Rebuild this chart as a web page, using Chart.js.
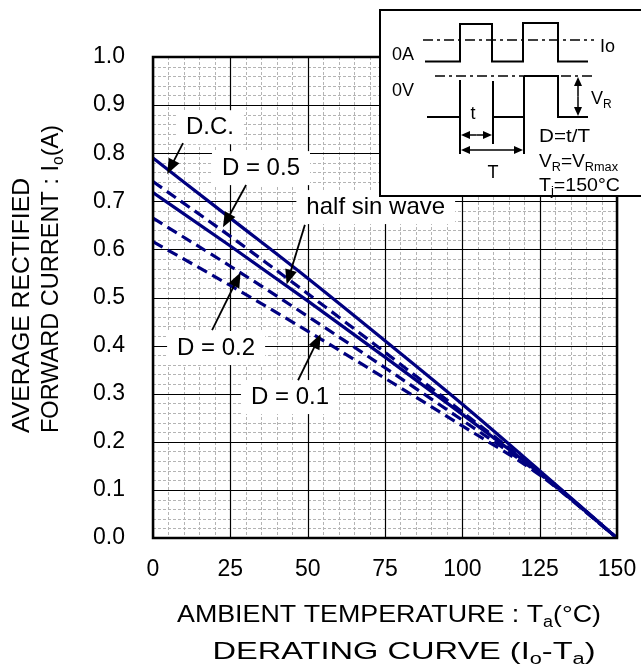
<!DOCTYPE html>
<html>
<head>
<meta charset="utf-8">
<script src="https://cdn.jsdelivr.net/npm/chart.js@4.4.0/dist/chart.umd.min.js"></script>
<style>
html,body{margin:0;padding:0;background:#fff;}
#wrap{width:641px;height:669px;position:relative;}
canvas{display:block;}
</style>
</head>
<body>
<div id="wrap"><canvas id="c" width="641" height="669" style="width:641px;height:669px"></canvas></div>
<script>
// ---- data ----
const temps = [0, 25, 50, 75, 100, 125, 150];
const dcValues       = [0.79, 0.665, 0.540, 0.410, 0.278, 0.140, 0];
const d05Values      = [0.741, 0.627, 0.508, 0.386, 0.262, 0.137, 0];
const halfSinValues  = [0.718, 0.607, 0.493, 0.376, 0.257, 0.135, 0];
const d02Values      = [0.665, 0.565, 0.461, 0.354, 0.245, 0.133, 0];
const d01Values      = [0.616, 0.525, 0.430, 0.332, 0.233, 0.131, 0];
const xTickValues = [0, 25, 50, 75, 100, 125, 150];
const yTickValues = [0.0, 0.1, 0.2, 0.3, 0.4, 0.5, 0.6, 0.7, 0.8, 0.9, 1.0];
const seriesNames = ['D.C.', 'D = 0.5', 'half sin wave', 'D = 0.2', 'D = 0.1'];

const FONT = '"Liberation Sans", Arial, sans-serif';
const NAVY = '#000080';

function pts(vals){ return temps.map((t,i)=>({x:t, y:vals[i]})); }

function ds(label, vals, dashed){
  return {label, data: pts(vals), borderColor: NAVY, borderWidth: 3.2,
    borderDash: dashed ? [11,6] : [], pointRadius: 0, fill:false,
    cubicInterpolationMode:'monotone', borderCapStyle:'butt'};
}

// annotation labels in data units
const annotations = [
  {text:'D.C.',          tx:18.4, ty:0.854, ax0:9.7,  ay0:0.821, ax1:4.6,  ay1:0.757},
  {text:'D = 0.5',       tx:34.9, ty:0.769, ax0:30.1, ay0:0.734, ax1:22.6, ay1:0.646},
  {text:'half sin wave', tx:72.0, ty:0.688, ax0:49.1, ay0:0.651, ax1:43.2, ay1:0.527},
  {text:'D = 0.2',       tx:20.4, ty:0.395, ax0:19.1, ay0:0.432, ax1:28.3, ay1:0.552},
  {text:'D = 0.1',       tx:44.3, ty:0.293, ax0:46.9, ay0:0.328, ax1:54.2, ay1:0.424}
];

// parts: [text, sub?]; fitW: optional target width (horizontal stretch)
function drawRich(ctx, parts, x, y, size, align, fitW){
  let w = 0;
  const widths = parts.map(p=>{
    ctx.font = (p[1] ? Math.round(size*0.68) : size) + 'px ' + FONT;
    const m = ctx.measureText(p[0]).width; w += m; return m;
  });
  const sx = fitW ? fitW / w : 1;
  const tw = w * sx;
  let cx = x;
  if (align === 'center') cx = x - tw/2;
  else if (align === 'right') cx = x - tw;
  ctx.save();
  ctx.translate(cx, y);
  ctx.scale(sx, 1);
  ctx.textAlign = 'left';
  ctx.textBaseline = 'middle';
  let px = 0;
  parts.forEach((p,i)=>{
    ctx.font = (p[1] ? Math.round(size*0.68) : size) + 'px ' + FONT;
    ctx.fillText(p[0], px, (p[1] ? size*0.3 : 0));
    px += widths[i];
  });
  ctx.restore();
  return tw;
}

function arrow(ctx, x0, y0, x1, y1, head, wid){
  const a = Math.atan2(y1-y0, x1-x0);
  ctx.beginPath(); ctx.moveTo(x0,y0);
  ctx.lineTo(x1 - Math.cos(a)*head*0.8, y1 - Math.sin(a)*head*0.8); ctx.stroke();
  ctx.beginPath();
  ctx.moveTo(x1,y1);
  ctx.lineTo(x1 - Math.cos(a)*head + Math.sin(a)*wid, y1 - Math.sin(a)*head - Math.cos(a)*wid);
  ctx.lineTo(x1 - Math.cos(a)*head - Math.sin(a)*wid, y1 - Math.sin(a)*head + Math.cos(a)*wid);
  ctx.closePath(); ctx.fill();
}

const gridPlugin = {
  id:'gridPlugin',
  beforeDatasetsDraw(chart){
    const ctx = chart.ctx, a = chart.chartArea, xs = chart.scales.x, ys = chart.scales.y;
    ctx.save();
    ctx.fillStyle = '#fff'; ctx.fillRect(a.left, a.top, a.right-a.left, a.bottom-a.top);
    // minor grid
    ctx.strokeStyle = '#b4b4b4'; ctx.lineWidth = 1; ctx.setLineDash([3,2]);
    for (let v = 5; v < 150; v += 5){
      if (v % 25 === 0) continue;
      const px = Math.round(xs.getPixelForValue(v)) + 0.5;
      ctx.beginPath(); ctx.moveTo(px, a.top); ctx.lineTo(px, a.bottom); ctx.stroke();
    }
    for (let i = 1; i < 50; i++){
      if (i % 5 === 0) continue;
      const py = Math.round(ys.getPixelForValue(i*0.02)) + 0.5;
      ctx.beginPath(); ctx.moveTo(a.left, py); ctx.lineTo(a.right, py); ctx.stroke();
    }
    ctx.setLineDash([]);
    // major grid
    ctx.strokeStyle = '#000'; ctx.lineWidth = 1.2;
    xTickValues.forEach(v=>{
      const px = Math.round(xs.getPixelForValue(v)) + 0.5;
      ctx.beginPath(); ctx.moveTo(px, a.top); ctx.lineTo(px, a.bottom); ctx.stroke();
    });
    yTickValues.forEach(v=>{
      const py = Math.round(ys.getPixelForValue(v)) + 0.5;
      ctx.beginPath(); ctx.moveTo(a.left, py); ctx.lineTo(a.right, py); ctx.stroke();
    });
    // label backgrounds
    ctx.fillStyle = '#fff';
    annotations.forEach(an=>{
      ctx.font = '24px ' + FONT;
      const w = ctx.measureText(an.text).width;
      const cx = xs.getPixelForValue(an.tx), cy = ys.getPixelForValue(an.ty);
      ctx.fillRect(cx - w/2 - 10, cy - 17, w + 20, 34);
    });
    ctx.restore();
  },
  afterDatasetsDraw(chart){
    const ctx = chart.ctx, a = chart.chartArea, xs = chart.scales.x, ys = chart.scales.y;
    ctx.save();
    // border
    ctx.strokeStyle = '#000'; ctx.lineWidth = 2.5;
    ctx.strokeRect(a.left, a.top, a.right-a.left, a.bottom-a.top);
    // annotations
    ctx.fillStyle = '#000'; ctx.strokeStyle = '#000'; ctx.lineWidth = 1.8;
    annotations.forEach(an=>{
      drawRich(ctx, [[an.text]], xs.getPixelForValue(an.tx), ys.getPixelForValue(an.ty), 24, 'center');
      arrow(ctx, xs.getPixelForValue(an.ax0), ys.getPixelForValue(an.ay0),
                 xs.getPixelForValue(an.ax1), ys.getPixelForValue(an.ay1), 15, 6);
    });
    ctx.restore();
  },
  afterDraw(chart){
    const ctx = chart.ctx;
    ctx.save();
    ctx.fillStyle = '#000';
    // axis titles
    drawRich(ctx, [['AMBIENT TEMPERATURE : T'],['a',1],['(°C)']], 389, 615, 24, 'center', 424);
    drawRich(ctx, [['DERATING CURVE (I'],['o',1],['-T'],['a',1],[')']], 404, 652, 24, 'center', 383);
    ctx.save();
    ctx.translate(22, 433); ctx.rotate(-Math.PI/2);
    drawRich(ctx, [['AVERAGE RECTIFIED']], 0, 0, 24, 'left', 255);
    ctx.restore();
    ctx.save();
    ctx.translate(51, 433); ctx.rotate(-Math.PI/2);
    drawRich(ctx, [['FORWARD CURRENT : I'],['o',1],['(A)']], 0, 0, 24, 'left', 308);
    ctx.restore();

    // inset diagram
    const L = 380, T = 10, B = 196;
    ctx.fillStyle = '#fff'; ctx.fillRect(L, T, 641-L+5, B-T);
    ctx.strokeStyle = '#000'; ctx.lineWidth = 2;
    ctx.strokeRect(L, T, 641-L+10, B-T);
    ctx.fillStyle = '#000';
    drawRich(ctx, [['0A']], 392, 55, 18, 'left');
    drawRich(ctx, [['0V']], 392, 91, 18, 'left');
    drawRich(ctx, [['Io']], 600, 47, 18, 'left');
    // dash-dot lines
    ctx.lineWidth = 1.5; ctx.setLineDash([10,4,3,4]);
    ctx.beginPath(); ctx.moveTo(423, 40); ctx.lineTo(594, 40); ctx.stroke();
    ctx.beginPath(); ctx.moveTo(435, 76); ctx.lineTo(594, 76); ctx.stroke();
    ctx.setLineDash([]);
    ctx.lineWidth = 2;
    // current waveform
    ctx.beginPath();
    ctx.moveTo(425, 61.5); ctx.lineTo(460, 61.5); ctx.lineTo(460, 24); ctx.lineTo(492, 24);
    ctx.lineTo(492, 61.5); ctx.lineTo(523, 61.5); ctx.lineTo(523, 23); ctx.lineTo(558, 23);
    ctx.lineTo(558, 61.5); ctx.lineTo(588, 61.5); ctx.stroke();
    // voltage waveform
    ctx.beginPath();
    ctx.moveTo(427, 117); ctx.lineTo(460, 117);
    ctx.moveTo(460, 80); ctx.lineTo(460, 154);
    ctx.moveTo(493, 81); ctx.lineTo(493, 144);
    ctx.moveTo(493, 117); ctx.lineTo(524, 117);
    ctx.moveTo(524, 76); ctx.lineTo(524, 154);
    ctx.moveTo(524, 76); ctx.lineTo(558, 76); ctx.lineTo(558, 117); ctx.lineTo(588, 117);
    ctx.stroke();
    ctx.lineWidth = 1.5;
    function dbl(x0,y0,x1,y1){ arrow(ctx,(x0+x1)/2,(y0+y1)/2,x0,y0,9,4); arrow(ctx,(x0+x1)/2,(y0+y1)/2,x1,y1,9,4); }
    dbl(461, 135, 492, 135);
    dbl(461, 150, 523, 150);
    dbl(578, 77, 578, 116);
    drawRich(ctx, [['t']], 473, 114, 18, 'center');
    drawRich(ctx, [['T']], 493, 173, 18, 'center');
    drawRich(ctx, [['V'],['R',1]], 591, 99, 18, 'left');
    drawRich(ctx, [['D=t/T']], 539, 137, 18, 'left', 51);
    drawRich(ctx, [['V'],['R',1],['=V'],['Rmax',1]], 539, 162, 18, 'left', 79);
    drawRich(ctx, [['T'],['j',1],['=150°C']], 539, 186, 18, 'left', 81);
    ctx.restore();
  }
};

new Chart(document.getElementById('c'), {
  type:'line',
  data:{ datasets:[
    ds(seriesNames[0], dcValues, false),
    ds(seriesNames[1], d05Values, true),
    ds(seriesNames[2], halfSinValues, false),
    ds(seriesNames[3], d02Values, true),
    ds(seriesNames[4], d01Values, true)
  ]},
  options:{
    responsive:false, animation:false, devicePixelRatio:1,
    layout:{padding:{left:0, right:24, top:57, bottom:0}},
    plugins:{legend:{display:false}, tooltip:{enabled:false}},
    scales:{
      x:{type:'linear', min:0, max:150,
         afterBuildTicks(s){ s.ticks = xTickValues.map(v=>({value:v})); },
         afterFit(s){ s.height = 131; s.paddingLeft = 0; s.paddingRight = 0; },
         grid:{display:false}, border:{display:false},
         ticks:{color:'#000', font:{family:FONT, size:23}, padding:10, maxRotation:0,
                callback:v=>String(v)}},
      y:{type:'linear', min:0, max:1,
         afterBuildTicks(s){ s.ticks = yTickValues.map(v=>({value:v})); },
         afterFit(s){ s.width = 153; s.paddingTop = 0; s.paddingBottom = 0; },
         grid:{display:false}, border:{display:false},
         ticks:{color:'#000', font:{family:FONT, size:23}, padding:20,
                callback:v=>Number(v).toFixed(1)}}
    }
  },
  plugins:[gridPlugin]
});
</script>
</body>
</html>
